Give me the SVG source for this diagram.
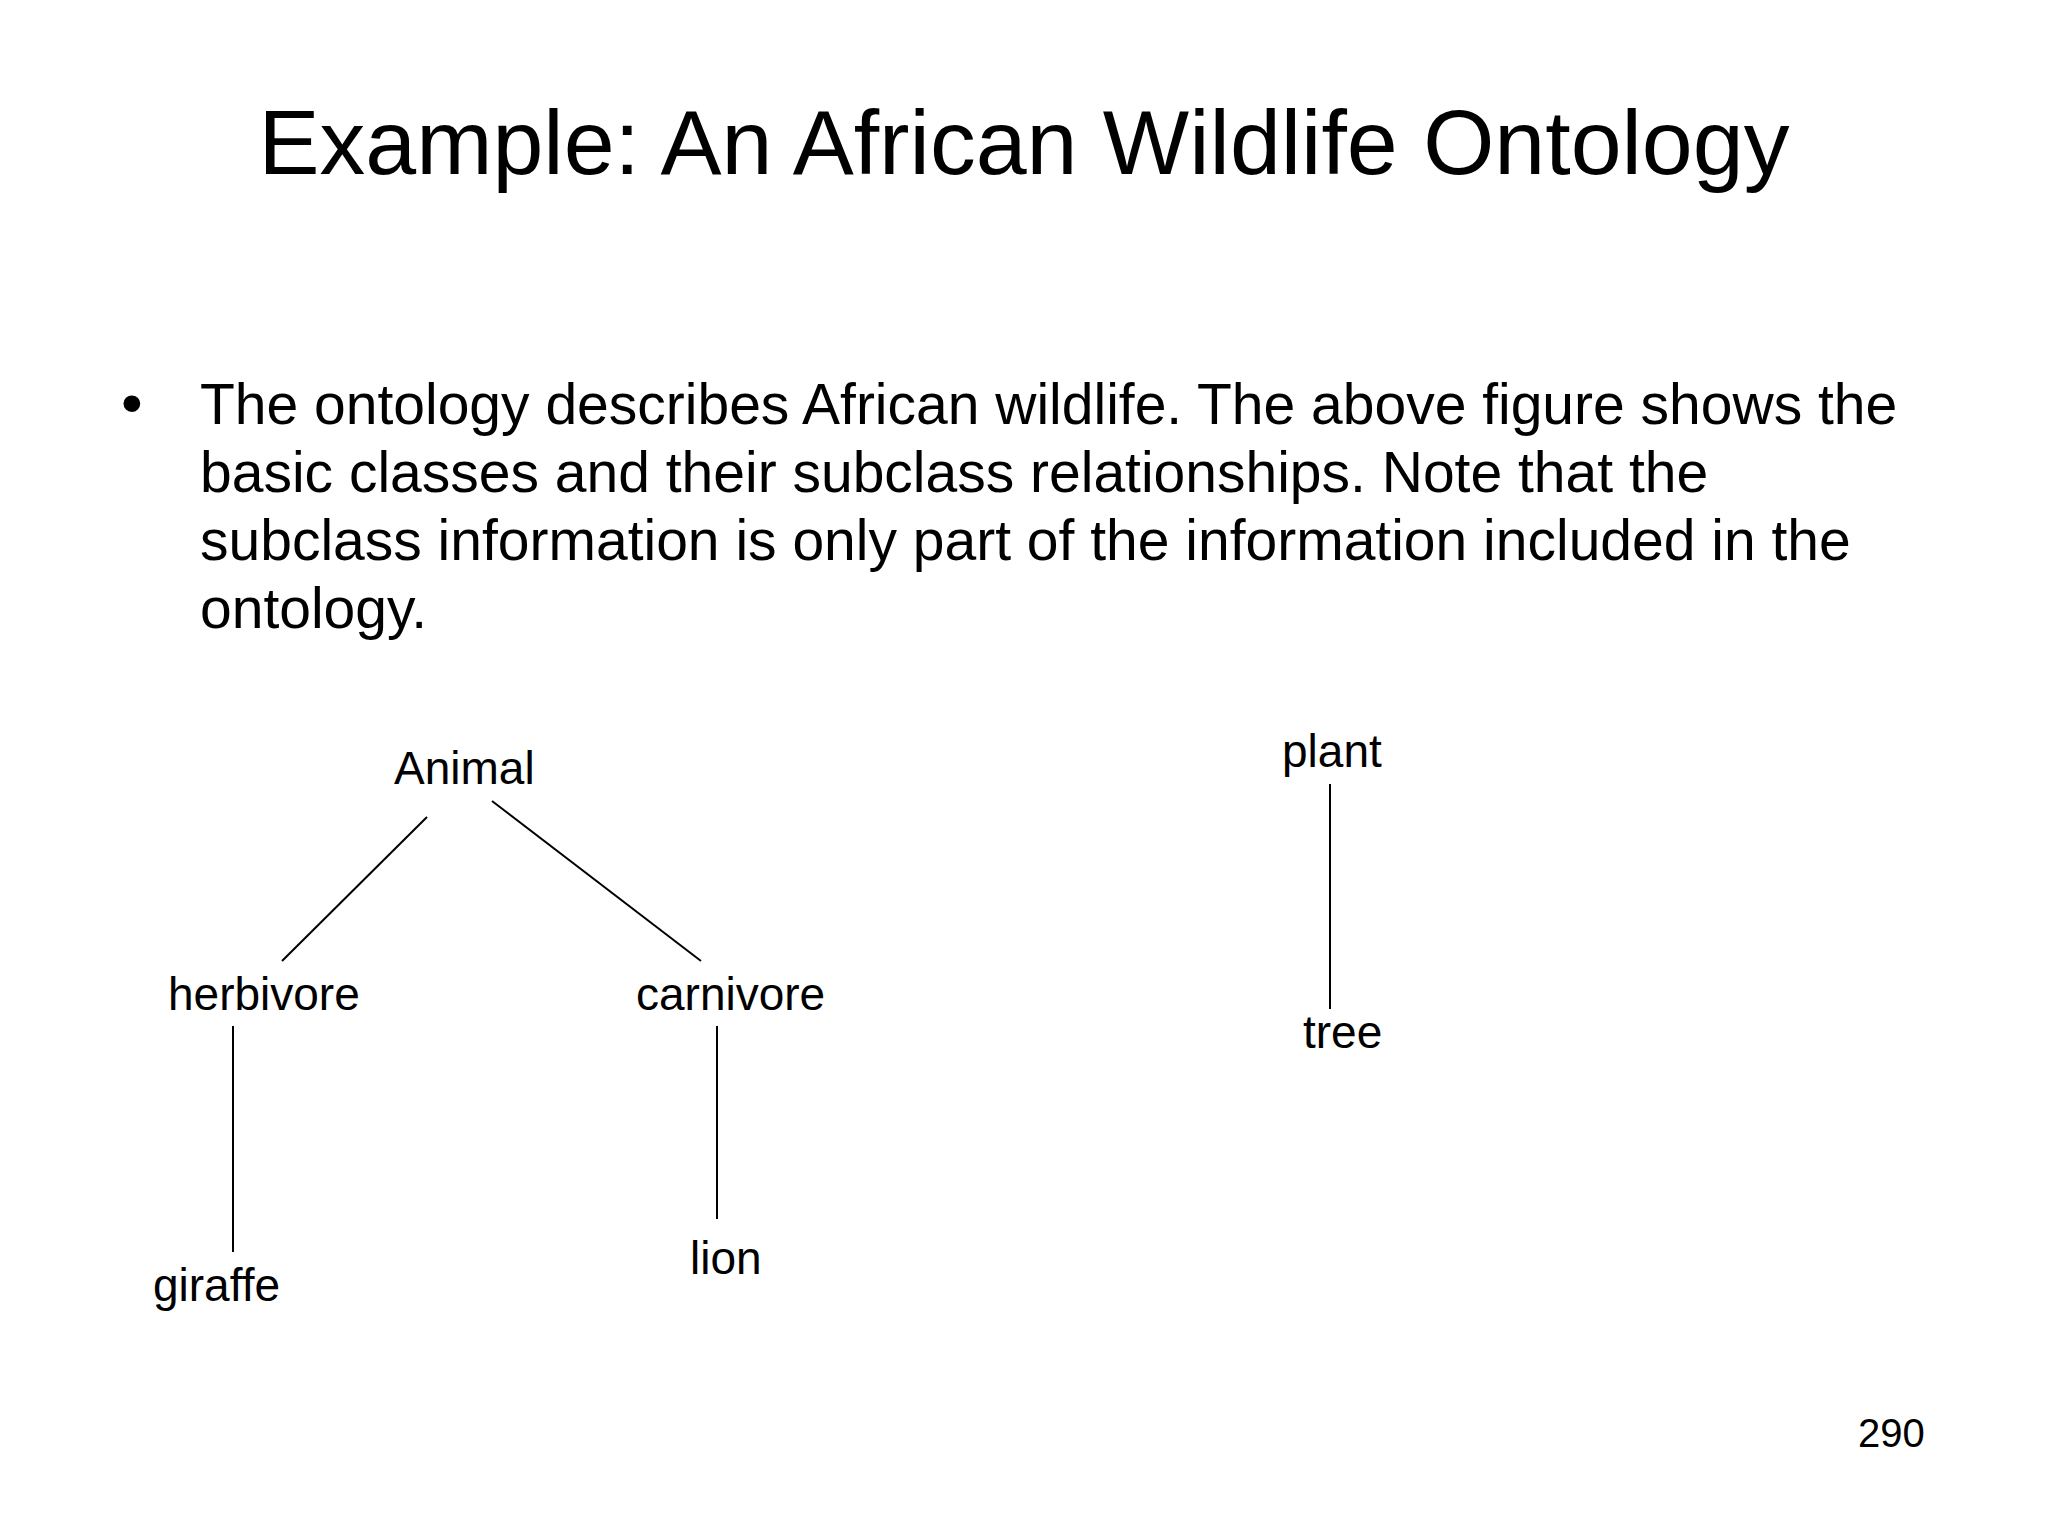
<svg xmlns="http://www.w3.org/2000/svg" width="2048" height="1536" viewBox="0 0 2048 1536">
<style>
text{font-family:"Liberation Sans",Arial,sans-serif;fill:#000}
.title{font-size:91.5px;text-anchor:middle}
.body{font-size:57px}
.node{font-size:46px}
.num{font-size:40px}
.conn line{stroke:#000;stroke-width:2;fill:none}
</style>
<rect x="0" y="0" width="2048" height="1536" fill="#fff"/>
<text class="title" x="1024" y="174">Example: An African Wildlife Ontology</text>
<g id="bullet">
<text class="body" x="121" y="424" style="font-size:62px">•</text>
<text class="body" x="200" y="424">The ontology describes African wildlife. The above figure shows the</text>
<text class="body" x="200" y="492">basic classes and their subclass relationships. Note that the</text>
<text class="body" x="200" y="560">subclass information is only part of the information included in the</text>
<text class="body" x="200" y="628">ontology.</text>
</g>
<g id="connectors" class="conn">
<line x1="427" y1="817" x2="282" y2="961"/>
<line x1="492" y1="801" x2="701" y2="961"/>
<line x1="233" y1="1026" x2="233" y2="1252"/>
<line x1="717" y1="1026" x2="717" y2="1219"/>
<line x1="1330" y1="784" x2="1330" y2="1009"/>
</g>
<g id="node-animal"><text class="node" x="394" y="784">Animal</text></g>
<g id="node-herbivore"><text class="node" x="168" y="1010">herbivore</text></g>
<g id="node-carnivore"><text class="node" x="636" y="1010">carnivore</text></g>
<g id="node-giraffe"><text class="node" x="153" y="1301">giraffe</text></g>
<g id="node-lion"><text class="node" x="690" y="1274">lion</text></g>
<g id="node-plant"><text class="node" x="1282" y="767">plant</text></g>
<g id="node-tree"><text class="node" x="1303" y="1048">tree</text></g>
<text class="num" x="1858" y="1447">290</text>
</svg>
